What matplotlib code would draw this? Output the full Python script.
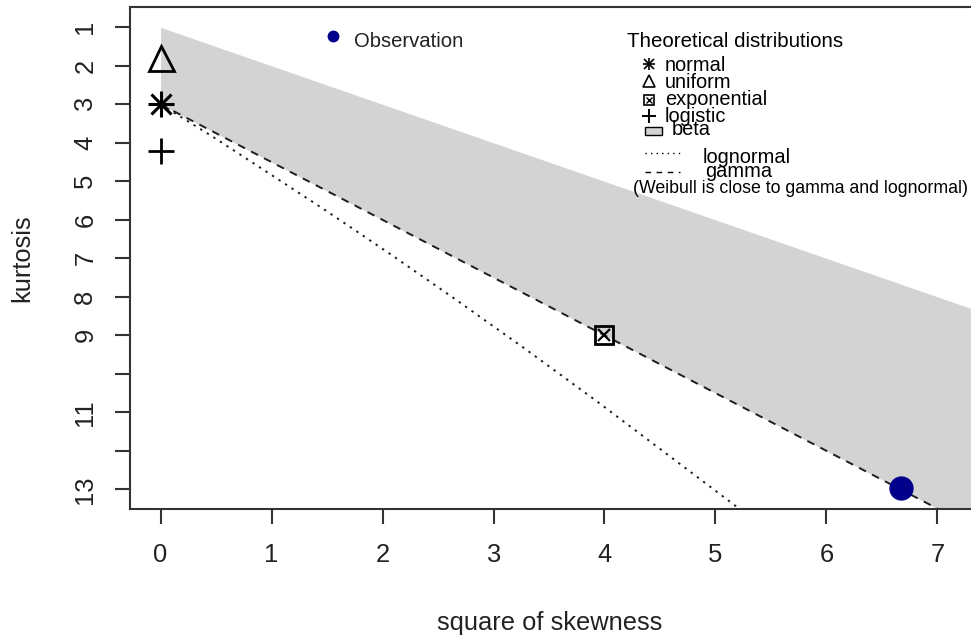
import matplotlib
matplotlib.use("Agg")
import matplotlib.pyplot as plt
from matplotlib.patches import Rectangle
from matplotlib.lines import Line2D

plt.rcParams['font.family'] = ['Liberation Sans', 'DejaVu Sans']

# Observed sample (square of skewness, kurtosis)
obs_skew2 = [6.67]
obs_kurt = [12.96]

# Theoretical distributions as single points
normal_pt = (0.0, 3.0)
uniform_pt = (0.0, 1.8)
exponential_pt = (4.0, 9.0)
logistic_pt = (0.0, 4.2)

# Beta region: upper and lower bounds
beta_x = [0.0, 7.3]
beta_upper = [1.0, 8.3]
beta_lower = [3.0, 13.95]

# Gamma line
gamma_x = [0.0, 7.3]
gamma_kurt = [3.0, 13.95]

# Lognormal curve
lnorm_x = [0.0, 0.47, 0.96, 1.49, 2.05, 2.64, 3.27, 3.93, 4.62, 5.36]
lnorm_kurt = [3.0, 3.84, 4.76, 5.76, 6.85, 8.03, 9.32, 10.71, 12.21, 13.82]

xticks = [0, 1, 2, 3, 4, 5, 6, 7]
yticks = list(range(1, 14))
ytick_labels = ['1', '2', '3', '4', '5', '6', '7', '8', '9', '', '11', '', '13']

W, H = 971, 638
fig = plt.figure(figsize=(W / 100, H / 100), dpi=100)
ax = fig.add_axes([130 / W, 1 - 509 / H, 840 / W, (509 - 7.3) / H])

dark = '#1e1e1e'

ax.fill_between(beta_x, beta_upper, beta_lower, color='#d3d3d3', lw=0, zorder=1)
ax.plot(gamma_x, gamma_kurt, color=dark, lw=1.4, ls=(0, (4, 3.5)), zorder=2)
ax.plot(lnorm_x, lnorm_kurt, color=dark, lw=1.4, ls=(0, (1.2, 2.8)), zorder=2)

# point markers
ax.plot(*normal_pt, marker='+', ms=19, mew=2.2, color='black', zorder=3)
ax.plot(*normal_pt, marker='x', ms=14, mew=2.2, color='black', zorder=3)
ax.plot(*uniform_pt, marker='^', ms=18, mew=2, mfc='none', color='black', zorder=3)
ax.plot(*logistic_pt, marker='+', ms=19, mew=2, color='black', zorder=3)
ax.plot(*exponential_pt, marker='s', ms=13, mew=2, mfc='none', color='black', zorder=3)
ax.plot(*exponential_pt, marker='x', ms=9, mew=1.6, color='black', zorder=3)
ax.plot(obs_skew2, obs_kurt, 'o', ms=16.5, color='#00008b', zorder=4)

ax.set_xlim(-0.275, 7.293)
ax.set_ylim(13.51, 0.48)

ax.set_xticks(xticks)
ax.set_yticks(yticks)
ax.set_yticklabels(ytick_labels, rotation=90, va='center')
ax.tick_params(axis='both', length=10.8, width=1.5, color='#333333',
               labelsize=18.4, labelcolor='#222222')
ax.tick_params(axis='x', pad=14)
ax.tick_params(axis='y', pad=12.7)

for side in ['left', 'bottom', 'top']:
    ax.spines[side].set_linewidth(1.5)
    ax.spines[side].set_color('#333333')
ax.spines['right'].set_visible(False)

ax.set_xlabel('square of skewness', fontsize=18.4, color='#222222', va='center')
ax.set_ylabel('kurtosis', fontsize=18.4, color='#222222', va='center')
ax.xaxis.set_label_coords(0.5, (509 - 623) / 501.7)
ax.yaxis.set_label_coords((22 - 130) / 840, 0.5)


def fp(x, y):
    return x / W, 1 - y / H


def fig_marker(x, y, **kw):
    fx, fy = fp(x, y)
    fig.add_artist(Line2D([fx], [fy], ls='none', **kw))


leg_fs = 14.4

# Observation legend
fig_marker(333, 36, marker='o', ms=7.5, color='#00008b')
fig.text(*fp(354, 47.3), 'Observation', fontsize=14.6, color='#222222', va='baseline')

# Theoretical distributions legend
fig.text(*fp(626.7, 47.3), 'Theoretical distributions', fontsize=14.8, va='baseline')
fig_marker(649, 63.5, marker='+', ms=9, mew=1.2, color='black')
fig_marker(649, 63.5, marker='x', ms=6.5, mew=1.2, color='black')
fig.text(*fp(665, 70.7), 'normal', fontsize=leg_fs, va='baseline')
fig_marker(649, 81, marker='^', ms=8.5, mew=1.2, mfc='none', color='black')
fig.text(*fp(665, 88.3), 'uniform', fontsize=leg_fs, va='baseline')
fig_marker(649, 99.5, marker='s', ms=6.5, mew=1.2, mfc='none', color='black')
fig_marker(649, 99.5, marker='x', ms=4.5, mew=1, color='black')
fig.text(*fp(665, 105), 'exponential', fontsize=leg_fs, va='baseline')
fig_marker(649, 116, marker='+', ms=10, mew=1.4, color='black')
fig.text(*fp(665, 121.7), 'logistic', fontsize=leg_fs, va='baseline')
x0, y0 = fp(645, 135)
x1, y1 = fp(662, 126.5)
fig.add_artist(Rectangle((x0, y0), x1 - x0, y1 - y0, transform=fig.transFigure,
                         facecolor='#d3d3d3', edgecolor='black', lw=1))
fig.text(*fp(671.7, 135), 'beta', fontsize=leg_fs, va='baseline')
xa, ya = fp(645, 152.5)
xb, _ = fp(680, 152.5)
fig.add_artist(Line2D([xa, xb], [ya, ya], color='black', lw=1, ls=(0, (1, 3))))
fig.text(*fp(703, 163.3), 'lognormal', fontsize=leg_fs, va='baseline')
xa, ya = fp(645, 171.7)
fig.add_artist(Line2D([xa, xb], [ya, ya], color='black', lw=1, ls=(0, (4, 4))))
fig.text(*fp(705, 176.7), 'gamma', fontsize=leg_fs, va='baseline')
fig.text(*fp(633, 193.3), '(Weibull is close to gamma and lognormal)', fontsize=12.8,
         va='baseline')

fig.savefig('out.png', dpi=100)
